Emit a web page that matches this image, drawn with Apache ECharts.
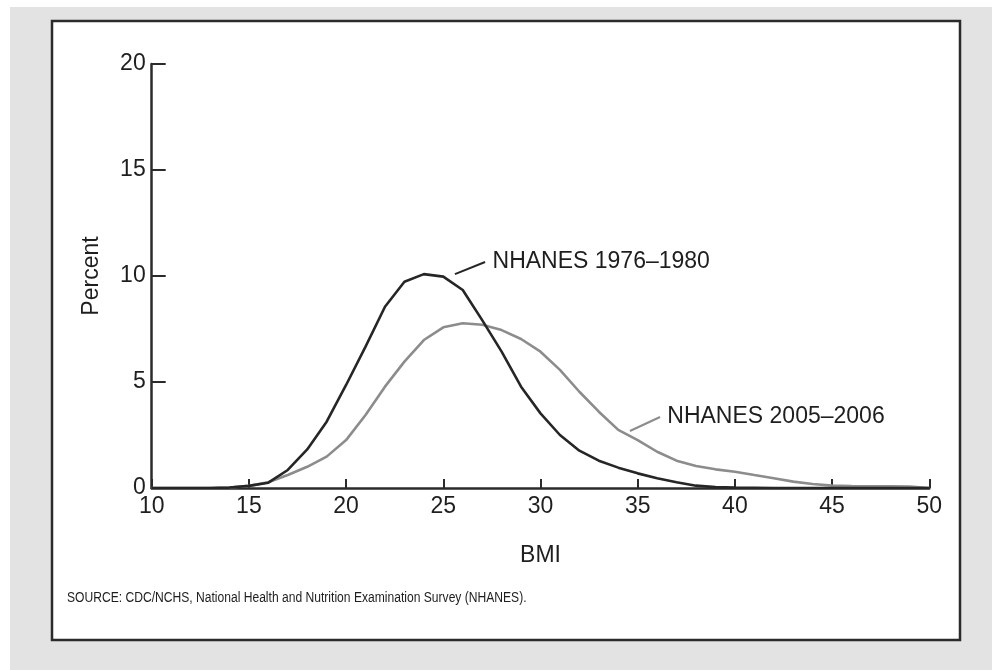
<!DOCTYPE html>
<html>
<head>
<meta charset="utf-8">
<script src="https://cdn.jsdelivr.net/npm/echarts@6/dist/echarts.min.js"></script>
<style>
html,body{margin:0;padding:0;background:#fff;}
#chart{width:992px;height:670px;}
</style>
</head>
<body>
<div id="chart"></div>
<script>
// BMI categories (x values)
const bmi = [10,11,12,13,14,15,16,17,18,19,20,21,22,23,24,25,26,27,28,29,30,31,32,33,34,35,36,37,38,39,40,41,42,43,44,45,46,47,48,49,50];
// Percent, NHANES 1976–1980
const nhanes1976 = [0,0,0,0,0.02,0.1,0.25,0.85,1.82,3.13,4.86,6.67,8.55,9.73,10.09,9.97,9.34,7.92,6.43,4.78,3.52,2.5,1.76,1.29,0.96,0.69,0.46,0.27,0.11,0.04,0.02,0.01,0,0,0,0,0,0,0,0,0];
// Percent, NHANES 2005–2006
const nhanes2005 = [0,0,0,0,0.02,0.1,0.27,0.61,1.0,1.48,2.26,3.44,4.78,5.96,6.98,7.58,7.77,7.7,7.45,7.03,6.43,5.57,4.54,3.6,2.74,2.26,1.71,1.29,1.04,0.88,0.77,0.61,0.46,0.3,0.19,0.11,0.09,0.08,0.08,0.07,0];
// Tick values
const xTicks = [10,15,20,25,30,35,40,45,50];
const yTicks = [0,5,10,15,20];
// Labels
const seriesNames = ['NHANES 1976–1980','NHANES 2005–2006'];
// Leader-line anchors for the labels, in data units [BMI, percent]
const leader1976 = [[25.6,10.09],[27.15,10.66]];
const leader2005 = [[34.6,2.69],[36.15,3.35]];
const sourceText = 'SOURCE: CDC/NCHS, National Health and Nutrition Examination Survey (NHANES).';

const toPairs = (xs, ys) => xs.map((x,i)=>[x, ys[i]]);
const FONT = '"Liberation Sans", Arial, Helvetica, sans-serif';
const TXT = '#1e1e1e';
const FS = 23;

const chart = echarts.init(document.getElementById('chart'), null, {renderer:'canvas'});

function leader(pts, name, color){
  return {
    silent: true,
    symbol: ['none','none'],
    animation: false,
    lineStyle: {color: color, width: 2, type: 'solid'},
    label: {
      show: true, position: 'end', distance: [8, 0],
      formatter: name, fontFamily: FONT, fontSize: FS, color: TXT
    },
    emphasis: {disabled: true},
    data: [[{coord: pts[0]}, {coord: pts[1]}]]
  };
}

chart.setOption({
  animation: false,
  backgroundColor: 'transparent',
  graphic: [
    {type:'rect', z:-10, silent:true, shape:{x:10,y:7,width:982,height:663}, style:{fill:'#e3e3e3'}},
    {type:'rect', z:-9, silent:true, shape:{x:52,y:21,width:908,height:619}, style:{fill:'#ffffff', stroke:'#2b2b2b', lineWidth:2.5}},
    {type:'text', silent:true, x:67, y:598, scaleX:0.78, scaleY:1,
      style:{text: sourceText, fontFamily: FONT, fontSize: 15.5, fill: TXT, textVerticalAlign:'middle', textAlign:'left'}}
  ],
  grid: {left: 151.7, right: 62.7, top: 64, bottom: 182, containLabel: false},
  xAxis: {
    type: 'value', min: 10, max: 50, interval: 5,
    name: 'BMI', nameLocation: 'middle', nameGap: 56,
    nameTextStyle: {fontFamily: FONT, fontSize: FS, color: TXT},
    axisLine: {show: true, onZero: false, lineStyle: {color: '#2b2b2b', width: 2.5}},
    axisTick: {show: true, inside: true, length: 9, lineStyle: {color: '#2b2b2b', width: 2}},
    axisLabel: {fontFamily: FONT, fontSize: FS, color: TXT, margin: 7,
      customValues: xTicks},
    splitLine: {show: false}
  },
  yAxis: {
    type: 'value', min: 0, max: 20, interval: 5,
    name: 'Percent', nameLocation: 'middle', nameGap: 49, nameRotate: 90,
    nameTextStyle: {fontFamily: FONT, fontSize: FS, color: TXT},
    axisLine: {show: true, lineStyle: {color: '#2b2b2b', width: 2.5}},
    axisTick: {show: true, inside: true, length: 14, lineStyle: {color: '#2b2b2b', width: 2}},
    axisLabel: {fontFamily: FONT, fontSize: FS, color: TXT, margin: 6},
    splitLine: {show: false}
  },
  series: [
    {
      name: seriesNames[1], type: 'line', data: toPairs(bmi, nhanes2005),
      showSymbol: false, smooth: false, z: 2,
      lineStyle: {color: '#8c8c8c', width: 2.6},
      markLine: leader(leader2005, seriesNames[1], '#8c8c8c')
    },
    {
      name: seriesNames[0], type: 'line', data: toPairs(bmi, nhanes1976),
      showSymbol: false, smooth: false, z: 3,
      lineStyle: {color: '#262626', width: 2.6},
      markLine: leader(leader1976, seriesNames[0], '#262626')
    }
  ]
});
</script>
</body>
</html>
